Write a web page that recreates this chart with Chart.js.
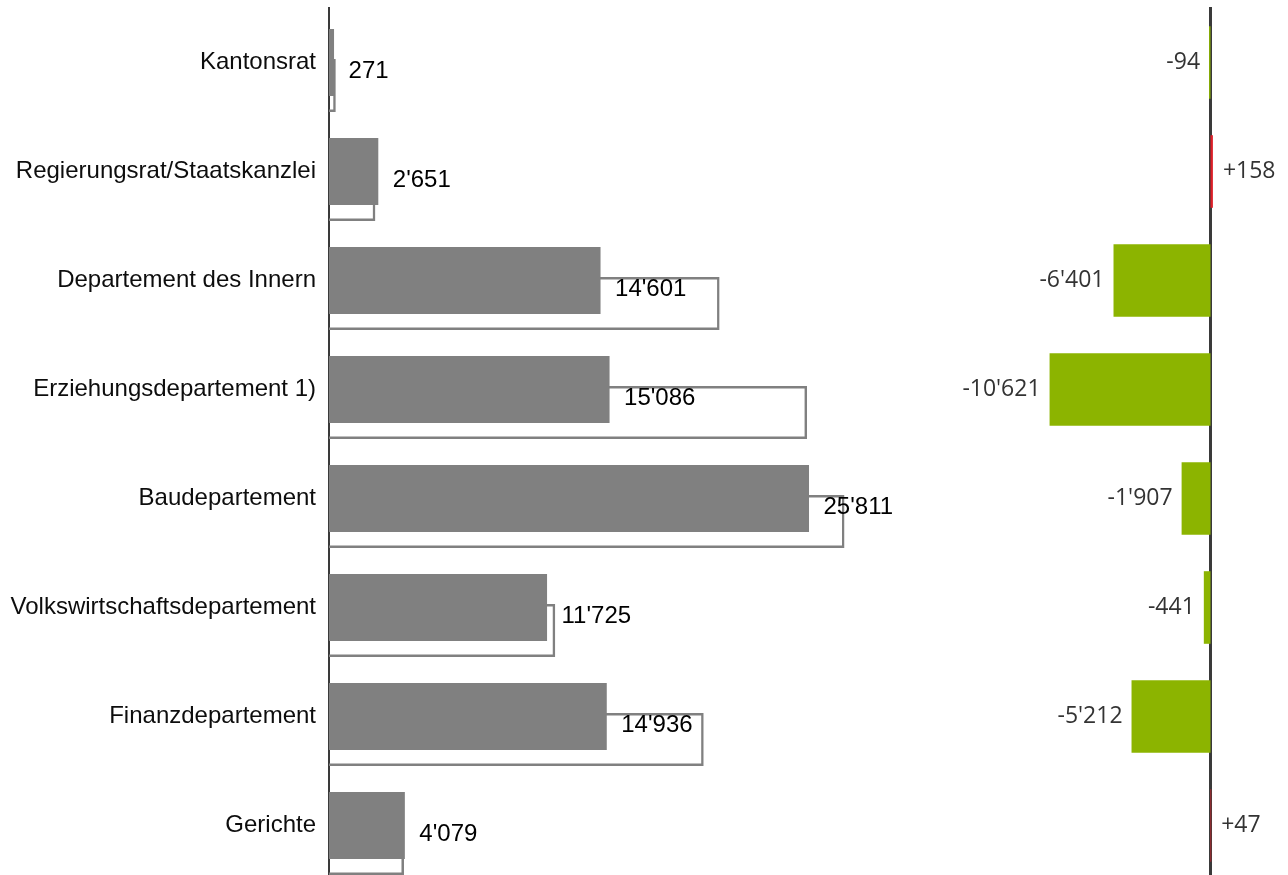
<!DOCTYPE html>
<html>
<head>
<meta charset="utf-8">
<script src="https://cdn.jsdelivr.net/npm/chart.js@4/dist/chart.umd.min.js"></script>
<style>
  html, body { margin: 0; padding: 0; background: #fff; overflow: hidden; }
  #wrapL { position: absolute; left: 0; top: 0; width: 900px; height: 885px; }
  #wrapR { position: absolute; left: 900px; top: 0; width: 388px; height: 885px; }
</style>
</head>
<body>
<div id="wrapL"><canvas id="left" width="900" height="885"></canvas></div>
<div id="wrapR"><canvas id="right" width="388" height="885"></canvas></div>
<script>
// ---- data ----
const categories = [
  "Kantonsrat",
  "Regierungsrat/Staatskanzlei",
  "Departement des Innern",
  "Erziehungsdepartement 1)",
  "Baudepartement",
  "Volkswirtschaftsdepartement",
  "Finanzdepartement",
  "Gerichte"
];
const actualValues   = [271, 2651, 14601, 15086, 25811, 11725, 14936, 4079];
const varianceValues = [-94, 158, -6401, -10621, -1907, -441, -5212, 47];
// comparison values (outlined bars) = actual - variance
const compareValues  = actualValues.map((v, i) => v - varianceValues[i]);

// ---- style ----
const GRAY = '#808080';
const GREEN = '#8cb400';
const RED = '#dc1e28';
const AXIS = '#3a3a3a';
const OUTLINE_SHIFT = 0.211; // band fraction the outlined bar sits lower
const LEFT_FONT = "'Liberation Sans', Arial, sans-serif";
const RIGHT_FONT = "'Open Sans', 'Noto Sans', sans-serif";

function fmt(n) {
  return Math.abs(n).toString().replace(/\B(?=(\d{3})+(?!\d))/g, "'");
}

Chart.defaults.animation = false;

const leftLabels = {
  id: 'leftLabels',
  afterDatasetsDraw(chart) {
    const ctx = chart.ctx;
    const fill = chart.getDatasetMeta(0).data;
    const outl = chart.getDatasetMeta(1).data;
    ctx.save();
    ctx.font = "24px " + LEFT_FONT;
    ctx.fillStyle = '#000';
    ctx.textAlign = 'left';
    ctx.textBaseline = 'middle';
    fill.forEach((el, i) => {
      const top = el.y - el.height / 2;
      const o = outl[i];
      const bottom = o.y + o.height / 2;
      ctx.fillText(fmt(actualValues[i]), el.x + 14.5, (top + bottom) / 2 + 1);
    });
    ctx.restore();
  }
};

new Chart(document.getElementById('left'), {
  type: 'bar',
  data: {
    labels: categories,
    datasets: [
      {
        label: 'Ist',
        data: actualValues,
        backgroundColor: GRAY,
        borderWidth: 0,
        categoryPercentage: 1,
        barPercentage: 0.615,
        grouped: false,
        yAxisID: 'y',
        order: 0
      },
      {
        label: 'Vergleich',
        data: compareValues.map((v, i) => ({ x: v, y: i })),
        backgroundColor: 'rgba(255,255,255,0)',
        borderColor: GRAY,
        borderWidth: 2.5,
        borderSkipped: 'start',
        categoryPercentage: 1,
        barPercentage: 0.486,
        grouped: false,
        yAxisID: 'y2',
        order: 1
      }
    ]
  },
  options: {
    indexAxis: 'y',
    responsive: false,
    animation: false,
    layout: { padding: { top: 8, bottom: 5, left: 0, right: 0 } },
    plugins: { legend: { display: false }, tooltip: { enabled: false } },
    scales: {
      x: { type: 'linear', min: 0, max: 30703, display: false },
      y: {
        type: 'category',
        position: 'left',
        z: 1,
        grid: { display: false, drawTicks: false },
        border: { display: true, color: AXIS, width: 2 },
        ticks: { color: '#0d0d0d', font: { family: LEFT_FONT, size: 24 }, padding: 13, autoSkip: false },
        afterFit(scale) {
          scale.width = 329;
          scale.paddingTop = 0;
          scale.paddingBottom = 0;
        }
      },
      y2: {
        type: 'linear',
        display: false,
        offset: false,
        reverse: true,
        min: -0.5 - OUTLINE_SHIFT,
        max: categories.length - 0.5 - OUTLINE_SHIFT,
        afterBuildTicks(scale) {
          scale.ticks = categories.map((_, i) => ({ value: i }));
        }
      }
    }
  },
  plugins: [leftLabels]
});

const rightLabels = {
  id: 'rightLabels',
  afterDatasetsDraw(chart) {
    const ctx = chart.ctx;
    const els = chart.getDatasetMeta(0).data;
    ctx.save();
    ctx.font = "23px " + RIGHT_FONT;
    ctx.fillStyle = '#333';
    ctx.textBaseline = 'middle';
    els.forEach((el, i) => {
      const v = varianceValues[i];
      const lo = Math.min(el.x, el.base), hi = Math.max(el.x, el.base);
      if (v < 0) {
        ctx.textAlign = 'right';
        ctx.fillText('-' + fmt(v), lo - 9, el.y);
      } else {
        ctx.textAlign = 'left';
        ctx.fillText('+' + fmt(v), hi + 10, el.y);
      }
    });
    ctx.restore();
  }
};

new Chart(document.getElementById('right'), {
  type: 'bar',
  data: {
    labels: categories,
    datasets: [{
      label: 'Abweichung',
      data: varianceValues,
      backgroundColor: varianceValues.map(v => v < 0 ? GREEN : RED),
      borderWidth: 0,
      categoryPercentage: 1,
      barPercentage: 0.666
    }]
  },
  options: {
    indexAxis: 'y',
    responsive: false,
    animation: false,
    layout: { padding: { top: 8, bottom: 5, left: 0, right: 0 } },
    plugins: { legend: { display: false }, tooltip: { enabled: false } },
    scales: {
      x: { type: 'linear', min: -20493, max: 5115, display: false },
      y: {
        type: 'category',
        position: { x: 0 },
        z: 1,
        grid: { display: false, drawTicks: false },
        border: { display: true, color: AXIS, width: 3 },
        ticks: { display: false }
      }
    }
  },
  plugins: [rightLabels]
});
</script>
</body>
</html>
